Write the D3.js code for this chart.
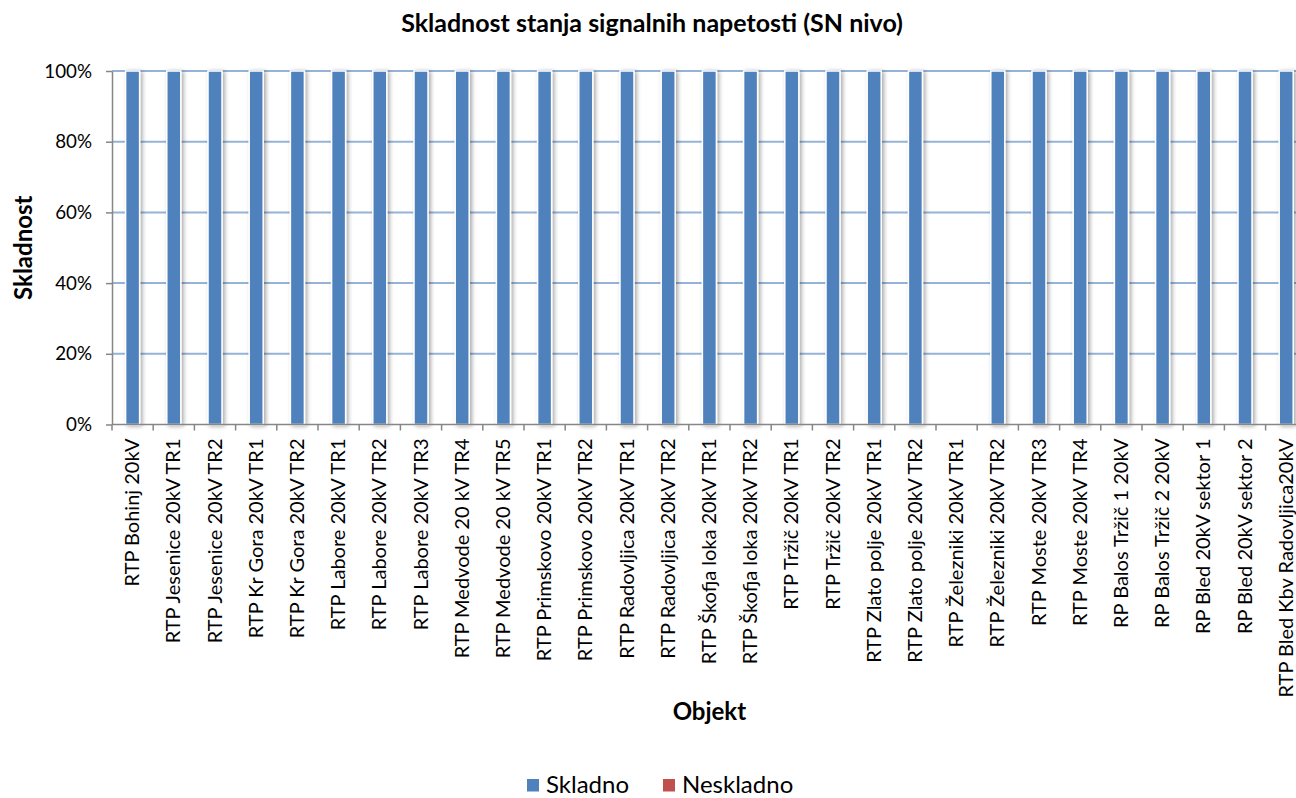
<!DOCTYPE html>
<html><head><meta charset="utf-8">
<script src="https://cdn.jsdelivr.net/npm/d3@7"></script>
<style>
html,body{margin:0;padding:0;background:#fff;}
svg{display:block;font-family:Lato, "Open Sans", sans-serif;}
</style></head><body>
<svg id="chart" width="1296" height="798"></svg>
<script>
const categories = [
  "RTP Bohinj 20kV","RTP Jesenice 20kV TR1","RTP Jesenice 20kV TR2","RTP Kr Gora 20kV TR1",
  "RTP Kr Gora 20kV TR2","RTP Labore 20kV TR1","RTP Labore 20kV TR2","RTP Labore 20kV TR3",
  "RTP Medvode 20 kV TR4","RTP Medvode 20 kV TR5","RTP Primskovo 20kV TR1","RTP Primskovo 20kV TR2",
  "RTP Radovljica 20kV TR1","RTP Radovljica 20kV TR2","RTP Škofja loka 20kV TR1","RTP Škofja loka 20kV TR2",
  "RTP Tržič 20kV TR1","RTP Tržič 20kV TR2","RTP Zlato polje 20kV TR1","RTP Zlato polje 20kV TR2",
  "RTP Železniki 20kV TR1","RTP Železniki 20kV TR2","RTP Moste 20kV TR3","RTP Moste 20kV TR4",
  "RP Balos Tržič 1 20kV","RP Balos Tržič 2 20kV","RP Bled 20kV sektor 1","RP Bled 20kV sektor 2",
  "RTP Bled Kbv Radovljica20kV"
];
const skladno   = [1,1,1,1,1,1,1,1,1,1,1,1,1,1,1,1,1,1,1,1,0,1,1,1,1,1,1,1,1];
const neskladno = [0,0,0,0,0,0,0,0,0,0,0,0,0,0,0,0,0,0,0,0,0,0,0,0,0,0,0,0,0];
const seriesNames = ["Skladno","Neskladno"];
const seriesColors = ["#4F81BD","#C0504D"];
const yTicks = [0,0.2,0.4,0.6,0.8,1];
const title = "Skladnost stanja signalnih napetosti (SN nivo)";
const yTitle = "Skladnost";
const xTitle = "Objekt";

const svg = d3.select("#chart");
const mLeft = 112, mTop = 71, mBottom = 424.5, step = 41.2;
const mRight = mLeft + step * categories.length;

const x = d3.scaleBand().domain(categories).range([mLeft, mRight]).paddingInner(0.66).paddingOuter(0.33);
const xOuter = d3.scaleBand().domain(categories).range([mLeft, mRight]);
const y = d3.scaleLinear().domain([0,1]).range([mBottom, mTop]);

const defs = svg.append("defs");
const f = defs.append("filter").attr("id","sh").attr("x","-50%").attr("y","-5%").attr("width","200%").attr("height","110%");
f.append("feDropShadow").attr("dx",2).attr("dy",1).attr("stdDeviation",2).attr("flood-color","#000").attr("flood-opacity",0.35);

// gridlines
svg.append("g").selectAll("line").data(yTicks.filter(d=>d>0)).join("line")
  .attr("x1",mLeft).attr("x2",mRight).attr("y1",d=>y(d)).attr("y2",d=>y(d))
  .attr("stroke","#95B3D7").attr("stroke-width",2);

// stacked data
const rows = categories.map((c,i)=>({cat:c, Skladno:skladno[i], Neskladno:neskladno[i]}));
const stacked = d3.stack().keys(seriesNames)(rows);
svg.append("g").selectAll("g").data(stacked).join("g")
  .attr("fill",(d,i)=>seriesColors[i])
  .selectAll("rect").data(d=>d.filter(s=>s[1]-s[0]>0)).join("rect")
  .attr("x",d=>x(d.data.cat)).attr("width",x.bandwidth())
  .attr("y",d=>y(d[1])).attr("height",d=>y(d[0])-y(d[1]))
  .attr("stroke","#fff").attr("stroke-width",1.5)
  .attr("filter","url(#sh)");

// y axis
const yAxis = d3.axisLeft(y).tickValues(yTicks).tickFormat(d3.format(".0%")).tickSize(6).tickSizeOuter(0);
const gy = svg.append("g").attr("transform",`translate(${mLeft},0)`).call(yAxis);
gy.select(".domain").attr("stroke","#868686").attr("stroke-width",1.5);
gy.selectAll(".tick line").attr("stroke","#868686").attr("stroke-width",1.5);
gy.selectAll(".tick text").attr("font-size",18.8).attr("fill","#000").attr("x",-20).attr("font-family","Lato");

// x axis
const gx = svg.append("g").attr("transform",`translate(0,${mBottom})`);
gx.append("line").attr("x1",mLeft).attr("x2",mRight).attr("stroke","#868686").attr("stroke-width",1.5);
gx.selectAll("line.t").data(d3.range(categories.length+1)).join("line").attr("class","t")
  .attr("x1",i=>mLeft+i*xOuter.step()).attr("x2",i=>mLeft+i*xOuter.step())
  .attr("y1",0).attr("y2",6).attr("stroke","#868686").attr("stroke-width",1.5);
gx.selectAll("text.lbl").data(categories).join("text").attr("class","lbl")
  .attr("transform",d=>`translate(${xOuter(d)+xOuter.bandwidth()/2+6.5},14) rotate(-90)`)
  .attr("text-anchor","end").attr("font-size",20).attr("fill","#000").text(d=>d);

// titles
svg.append("text").attr("x",652).attr("y",32).attr("text-anchor","middle")
  .attr("font-weight","bold").attr("font-size",25).text(title);
svg.append("text").attr("transform",`translate(32,${(mTop+mBottom)/2}) rotate(-90)`).attr("text-anchor","middle")
  .attr("font-weight","bold").attr("font-size",24).text(yTitle);
svg.append("text").attr("x",(mLeft+mRight)/2).attr("y",720).attr("text-anchor","middle")
  .attr("font-weight","bold").attr("font-size",24).text(xTitle);

// legend
const lg = svg.append("g");
const legendX = [527, 663];
seriesNames.forEach((n,i)=>{
  lg.append("rect").attr("x",legendX[i]).attr("y",779).attr("width",12).attr("height",12.5).attr("fill",seriesColors[i]);
  lg.append("text").attr("x",legendX[i]+19).attr("y",793).attr("font-size",24).text(n);
});
</script></body></html>
